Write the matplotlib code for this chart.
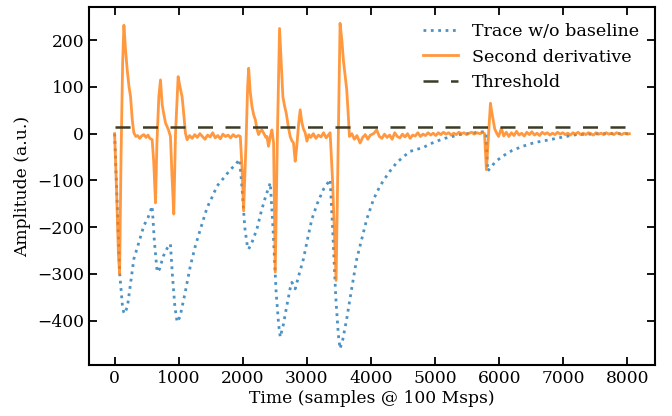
import matplotlib.pyplot as plt

# values
trace_x = [0, 40, 80, 120, 140, 155, 200, 300, 380, 456, 520, 586,
           620, 664, 700, 760, 820, 871, 900, 940, 975, 1020, 1100, 1183,
           1260, 1339, 1443, 1520, 1598, 1700, 1805, 1880, 1950, 1990, 2030, 2070,
           2091, 2150, 2220, 2290, 2350, 2428, 2470, 2520, 2560, 2584, 2630, 2688,
           2740, 2765, 2817, 2880, 2946, 3010, 3077, 3160, 3258, 3362, 3400, 3450,
           3490, 3517, 3560, 3621, 3700, 3777, 3829, 3933, 4040, 4140, 4220, 4296,
           4400, 4500, 4607, 4700, 4810, 4920, 5027, 5150, 5270, 5385, 5500, 5620,
           5743, 5790, 5820, 5870, 5940, 6055, 6200, 6366, 6550, 6786, 7000, 7206,
           7400, 7600, 7800, 8030]
trace_y = [0, -150, -300, -365, -381, -385, -370, -268, -232, -197, -180, -155,
           -230, -296, -290, -262, -245, -236, -300, -370, -403, -392, -340, -282,
           -240, -204, -158, -136, -112, -95, -77, -67, -55, -120, -200, -240,
           -247, -230, -204, -165, -137, -105, -200, -340, -410, -435, -410, -367,
           -330, -318, -332, -300, -268, -225, -183, -150, -119, -98, -200, -350,
           -430, -460, -440, -396, -330, -268, -240, -183, -140, -112, -95, -80,
           -62, -50, -38, -34, -30, -22, -16, -10, -6, -2, 0, 2,
           4, 3, -80, -72, -60, -48, -36, -27, -19, -13, -7, -2,
           -1, 0, 0, 0]

deriv_x = [0, 30, 60, 78, 100, 125, 145, 170, 197, 225, 249, 275, 300, 330, 360, 390,
           420, 456, 490, 520, 550, 586, 610, 638, 660, 690, 716, 742, 770, 794, 820, 841,
           871, 895, 923, 950, 991, 1020, 1053, 1080, 1105, 1131, 1170, 1210, 1250, 1290, 1330, 1370,
           1410, 1450, 1490, 1530, 1570, 1610, 1650, 1690, 1730, 1770, 1810, 1850, 1890, 1930,
           1961, 1990, 2012, 2050, 2075, 2091, 2115, 2143, 2170, 2195, 2220, 2246, 2270, 2298, 2330, 2360,
           2377, 2400, 2430, 2454, 2480, 2506, 2540, 2573, 2600, 2625, 2650, 2677, 2710, 2739, 2765, 2791,
           2817, 2840, 2870, 2895, 2920, 2946, 2973, 3000, 3030, 3060, 3100, 3140, 3180, 3220, 3260, 3300,
           3340, 3362, 3400, 3455, 3490, 3517, 3545, 3569, 3595, 3621, 3645, 3663, 3700, 3740, 3780, 3829,
           3870, 3910, 3950, 3990, 4040, 4088, 4130, 4170, 4210, 4250, 4290, 4330, 4370, 4410, 4450, 4490,
           4530, 4570, 4610, 4650, 4690, 4730, 4770, 4810, 4850, 4890, 4930, 4970, 5010, 5050, 5090, 5130,
           5170, 5210, 5250, 5290, 5330, 5370, 5410, 5450, 5490, 5530, 5570, 5610, 5650, 5700, 5740, 5770,
           5800, 5830, 5863, 5885, 5904, 5930, 5957, 5990, 6034, 6070, 6110, 6150, 6190, 6230, 6270, 6310,
           6350, 6390, 6430, 6470, 6510, 6550, 6590, 6630, 6670, 6710, 6750, 6790, 6830, 6870, 6910, 6950,
           6990, 7030, 7070, 7110, 7150, 7190, 7230, 7270, 7310, 7350, 7390, 7430, 7470, 7510, 7550, 7590,
           7630, 7670, 7710, 7750, 7790, 7830, 7870, 7910, 7950, 8000, 8030]
deriv_y = [0, -120, -260, -300, -50, 150, 232, 180, 136, 100, 79, 30, 2, -6, -4, -10,
           -5, -2, -8, -3, -10, -13, -60, -148, -20, 80, 115, 62, 40, 23, 15, 8,
           -6, -90, -172, 0, 122, 100, 79, 40, 1, -13, -4, -10, -2, -8, 0, -6,
           -12, -3, -7, 2, -9, -4, -11, -1, -6, -3, -9, -2, -7, -4,
           -6, -80, -165, -20, 100, 140, 90, 58, 40, 30, 10, -2, 5, 8, 0, -8,
           -6, -27, -5, 8, -20, -296, 0, 225, 150, 79, 60, 44, 15, -6, -15, -20,
           -59, -30, 20, 51, 25, 10, 2, -16, -2, -8, 0, -10, -3, -7, 2, -9,
           -2, 2, -100, -314, 0, 236, 200, 157, 125, 94, 40, -6, 0, -12, -4, -20,
           -8, -2, -12, -3, 0, 8, -6, -10, -1, -8, -3, -12, 2, -6, -9, -1,
           -7, 0, -10, -3, -5, 2, -6, -1, -4, 2, -3, 1, -4, 2, -2, 3,
           -1, 2, -3, 1, -2, 3, 0, 2, -2, 1, 3, -1, 2, 0, 3, 0,
           -77, -10, 65, 45, 30, 10, 2, -6, 12, -5, 3, -6, 2, -4, 5, -3,
           1, -5, 3, -2, 4, -3, 1, -4, 3, -1, 2, -3, 1, -2, 3, -1,
           2, -2, 1, -3, 2, -1, 3, -2, 1, -2, 2, 0, -3, 2, -1, 1,
           -2, 2, -1, 1, -2, 2, 0, -2, 1, -1, 0]

thresh_x = [0, 7960]
thresh_y = [15, 15]

plt.rcParams['font.family'] = 'DejaVu Serif'
plt.rcParams['font.size'] = 12.3

fig = plt.figure(figsize=(6.72, 4.16), dpi=100)
ax = fig.add_axes([0.1324, 0.1226, 0.8423, 0.8604])

ax.plot(trace_x, trace_y, ':', color='#1f77b4', alpha=0.8, lw=2, label='Trace w/o baseline')
ax.plot(deriv_x, deriv_y, '-', color='#ff7f0e', alpha=0.8, lw=2, label='Second derivative')
ax.plot(thresh_x, thresh_y, '--', color='#3c3c28', lw=1.8, dashes=(6, 5), label='Threshold')

ax.set_xlim(-400, 8430)
ax.set_xticks(range(0, 8001, 1000))
ax.set_yticks(range(-400, 201, 100))
ax.tick_params(direction='in', top=True, right=True, length=6, width=1.3)
for s in ax.spines.values():
    s.set_linewidth(1.5)

ax.set_xlabel('Time (samples @ 100 Msps)', labelpad=2)
ax.set_ylabel('Amplitude (a.u.)')
ax.legend(loc='upper right', frameon=False, fontsize=12.6)

fig.savefig('out.png', dpi=100)
